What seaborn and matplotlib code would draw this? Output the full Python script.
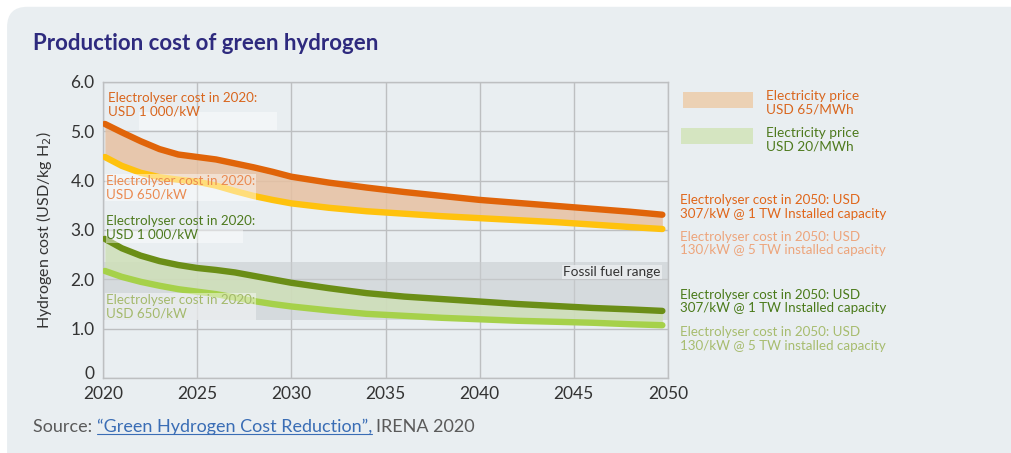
import matplotlib
matplotlib.use("Agg")
import matplotlib.pyplot as plt
import matplotlib.transforms as mtransforms
import seaborn as sns
import pandas as pd
from matplotlib.patches import FancyBboxPatch, Rectangle

# ---------------- data ----------------
years = [2020.1, 2021, 2022, 2023, 2024, 2025, 2026, 2027, 2028, 2029, 2030,
         2032, 2034, 2036, 2038, 2040, 2042, 2044, 2046, 2048, 2049.7]
cost_1000_65 = [5.15, 4.98, 4.80, 4.64, 4.53, 4.48, 4.43, 4.35, 4.27, 4.18, 4.08,
                3.96, 3.86, 3.77, 3.69, 3.61, 3.55, 3.49, 3.43, 3.37, 3.31]
cost_650_65 = [4.48, 4.30, 4.16, 4.07, 4.02, 3.98, 3.90, 3.79, 3.69, 3.61, 3.54,
               3.45, 3.38, 3.33, 3.28, 3.24, 3.20, 3.16, 3.11, 3.06, 3.02]
cost_1000_20 = [2.82, 2.63, 2.48, 2.37, 2.29, 2.23, 2.19, 2.14, 2.07, 2.00, 1.93,
                1.82, 1.72, 1.65, 1.60, 1.55, 1.50, 1.46, 1.42, 1.39, 1.36]
cost_650_20 = [2.17, 2.05, 1.95, 1.87, 1.80, 1.75, 1.70, 1.63, 1.56, 1.50, 1.45,
               1.37, 1.30, 1.26, 1.22, 1.19, 1.16, 1.14, 1.12, 1.09, 1.07]
fossil_low, fossil_high = 1.17, 2.35
x_ticks = [2020, 2025, 2030, 2035, 2040, 2045, 2050]
y_ticks = [0, 1, 2, 3, 4, 5, 6]
y_ticklabels = ["0", "1.0", "2.0", "3.0", "4.0", "5.0", "6.0"]

series_names = ["1000_65", "650_65", "1000_20", "650_20"]
series_vals = [cost_1000_65, cost_650_65, cost_1000_20, cost_650_20]
series_colors = ["#E06409", "#FFC20E", "#6B8E17", "#A6D14A"]

df = pd.concat([pd.DataFrame({"year": years, "cost": v, "series": n})
                for n, v in zip(series_names, series_vals)], ignore_index=True)

# ---------------- style ----------------
BG = "#E9EEF1"
sns.set_style("white")
plt.rcParams["font.family"] = ["Lato", "DejaVu Sans"]

fig = plt.figure(figsize=(10.11, 4.53), dpi=100, facecolor="white")
panel = FancyBboxPatch((0.007, -0.05), 1.1, 1.035, boxstyle="round,pad=0,rounding_size=0.02",
                       transform=fig.transFigure, facecolor=BG, edgecolor="none", zorder=-10,
                       mutation_aspect=10.11 / 4.53)
fig.patches.append(panel)

ax = fig.add_axes([103 / 1011, 75 / 453, 565 / 1011, 296 / 453])
ax.set_facecolor(BG)

# fossil fuel band
ax.axhspan(fossil_low, fossil_high, color="#C9CDD0", alpha=0.6, lw=0, zorder=1)

# fills
ax.fill_between(years, cost_650_65, cost_1000_65, color="#E7C1A2", alpha=0.85, lw=0, zorder=2)
ax.fill_between(years, cost_650_20, cost_1000_20, color="#CFDFB8", alpha=0.85, lw=0, zorder=2)

sns.lineplot(data=df, x="year", y="cost", hue="series", palette=dict(zip(series_names, series_colors)),
             linewidth=4.6, legend=False, ax=ax, zorder=3, solid_capstyle="round")

ax.set_xlim(2020, 2050)
ax.set_ylim(0, 6)
ax.set_xticks(x_ticks)
ax.set_yticks(y_ticks)
ax.set_yticklabels(y_ticklabels)
ax.grid(True, color="#BDBFC1", lw=1.0, zorder=0)
ax.set_axisbelow(True)
for s in ax.spines.values():
    s.set_color("#BDBFC1")
    s.set_linewidth(1.0)
ax.tick_params(axis="both", length=0, labelsize=12.5, labelcolor="#333333")
ax.tick_params(axis="x", pad=6)
ax.tick_params(axis="y", pad=6)
ax.set_xlabel("")
ax.set_ylabel("Hydrogen cost (USD/kg H$_2$)", fontsize=11.5, color="#333333", labelpad=12)
# raise the "0" label a little, as in the reference
zero_lbl = ax.get_yticklabels()[0]
zero_lbl.set_transform(zero_lbl.get_transform() +
                       mtransforms.ScaledTranslation(0, 4 / 72, fig.dpi_scale_trans))

# decorative light boxes behind some labels (as in the reference)
ax.add_patch(Rectangle((2021.91, 5.03), 7.33, 0.36, facecolor="white", alpha=0.45, edgecolor="none", zorder=3.5))
ax.add_patch(Rectangle((2020.16, 2.74), 7.27, 0.26, facecolor="white", alpha=0.45, edgecolor="none", zorder=3.5))

# in-plot labels
lab_kw = dict(fontsize=9.6, va="top", ha="left", linespacing=1.15, zorder=4)
box_kw = dict(facecolor="white", alpha=0.45, edgecolor="none", pad=0.5)
ax.text(2020.25, 5.80, "Electrolyser cost in 2020:\nUSD 1 000/kW", color="#D9661E", **lab_kw)
ax.text(2020.15, 4.12, "Electrolyser cost in 2020:\nUSD 650/kW", color="#EA8A50", bbox=box_kw, **lab_kw)
ax.text(2020.15, 3.30, "Electrolyser cost in 2020:\nUSD 1 000/kW", color="#4E7A1E", **lab_kw)
ax.text(2020.15, 1.70, "Electrolyser cost in 2020:\nUSD 650/kW", color="#A4B96C", bbox=box_kw, **lab_kw)

ax.text(2049.6, 2.15, "Fossil fuel range", fontsize=9.8, color="#333333", ha="right", va="center",
        zorder=4, bbox=dict(facecolor="#ECEFF1", alpha=0.8, edgecolor="none", pad=1))

# right-hand legend
fig.patches.append(Rectangle((683 / 1011, 1 - 108 / 453), 70 / 1011, 16 / 453,
                             transform=fig.transFigure, facecolor="#ECD1B4", edgecolor="none"))
fig.patches.append(Rectangle((681 / 1011, 1 - 144 / 453), 72 / 1011, 16 / 453,
                             transform=fig.transFigure, facecolor="#D5E5C1", edgecolor="none"))
fig.text(766 / 1011, 1 - 90 / 453, "Electricity price\nUSD 65/MWh", fontsize=9.8, color="#D9661E",
         va="top", ha="left", linespacing=1.15)
fig.text(766 / 1011, 1 - 127 / 453, "Electricity price\nUSD 20/MWh", fontsize=9.8, color="#4E7A1E",
         va="top", ha="left", linespacing=1.15)

rkw = dict(fontsize=9.6, va="top", ha="left", linespacing=1.15)
fig.text(680 / 1011, 1 - 194 / 453, "Electrolyser cost in 2050: USD\n307/kW @ 1 TW Installed capacity",
         color="#E0661A", **rkw)
fig.text(680 / 1011, 1 - 231 / 453, "Electrolyser cost in 2050: USD\n130/kW @ 5 TW installed capacity",
         color="#EDA57C", **rkw)
fig.text(680 / 1011, 1 - 289 / 453, "Electrolyser cost in 2050: USD\n307/kW @ 1 TW Installed capacity",
         color="#4A7A1A", **rkw)
fig.text(680 / 1011, 1 - 326 / 453, "Electrolyser cost in 2050: USD\n130/kW @ 5 TW installed capacity",
         color="#A7BC6E", **rkw)

# title
fig.text(33 / 1011, 1 - 43 / 453, "Production cost of green hydrogen", fontsize=16, fontweight="bold",
         color="#2E2A7E", va="center", ha="left")

# source
src_fs = 13
t1 = fig.text(33 / 1011, 1 - 427 / 453, "Source: ", fontsize=src_fs,
              color="#5A5A5A", va="center", ha="left")
fig.canvas.draw()
r = fig.canvas.get_renderer()
bb = t1.get_window_extent(r)
t2 = fig.text(bb.x1 / 1011, 1 - 427 / 453, "\u201cGreen Hydrogen Cost Reduction\u201d,", fontsize=src_fs,
              color="#3A6DB5", va="center", ha="left")
bb2 = t2.get_window_extent(r)
fig.add_artist(plt.Line2D([bb2.x0 / 1011, bb2.x1 / 1011], [(bb2.y0 + 1) / 453] * 2, color="#3A6DB5", lw=0.8))
fig.text(bb2.x1 / 1011 + 4 / 1011, 1 - 427 / 453, "IRENA 2020", fontsize=src_fs,
         color="#5A5A5A", va="center", ha="left")

fig.savefig("out.png", dpi=100, facecolor="white")
